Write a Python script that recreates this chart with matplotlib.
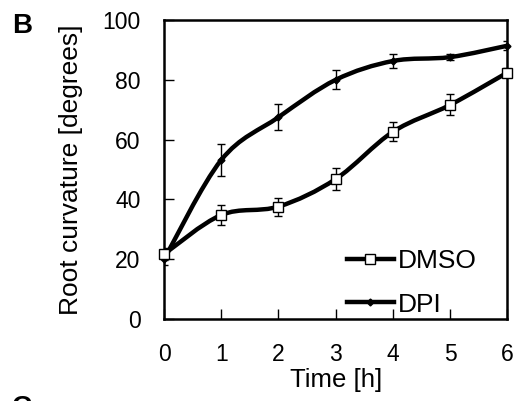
import numpy as np
import matplotlib
matplotlib.use('Agg')
import matplotlib.pyplot as plt
from matplotlib.path import Path
from matplotlib.patches import PathPatch
from matplotlib.lines import Line2D

plt.rcParams['font.family'] = ['Liberation Sans', 'DejaVu Sans']

hours = [0, 1, 2, 3, 4, 5, 6]
dmso = [21.7, 34.8, 37.6, 46.8, 62.6, 71.6, 82.4]
dmso_err = [2.0, 3.3, 3.0, 3.7, 3.2, 3.5, 1.5]
dpi = [20.0, 53.2, 67.5, 80.0, 86.3, 87.6, 91.4]
dpi_err = [2.0, 5.2, 4.3, 3.2, 2.2, 1.0, 1.5]

xticks = [0, 1, 2, 3, 4, 5, 6]
yticks = [0, 20, 40, 60, 80, 100]

lw = 3.2


def smooth_path(x, y):
    # excel-style smoothed line as cubic bezier segments
    x = np.asarray(x, float)
    y = np.asarray(y, float)
    px = np.concatenate([[x[0]], x, [x[-1]]])
    py = np.concatenate([[y[0]], y, [y[-1]]])
    verts = [(x[0], y[0])]
    codes = [Path.MOVETO]
    for i in range(1, len(px) - 2):
        c1 = (px[i] + (px[i + 1] - px[i - 1]) / 6, py[i] + (py[i + 1] - py[i - 1]) / 6)
        c2 = (px[i + 1] - (px[i + 2] - px[i]) / 6, py[i + 1] - (py[i + 2] - py[i]) / 6)
        verts += [c1, c2, (px[i + 1], py[i + 1])]
        codes += [Path.CURVE4] * 3
    return Path(verts, codes)


fig = plt.figure(figsize=(5.16, 4.01), dpi=100)
ax = fig.add_axes([0.318, 0.2045, 0.665, 0.7455])

for vals, errs, mk, ms, mfc in [(dpi, dpi_err, 'D', 3.5, 'black'),
                                 (dmso, dmso_err, 's', 6.5, 'white')]:
    ax.add_patch(PathPatch(smooth_path(hours, vals), fill=False, ec='black', lw=lw,
                           capstyle='round', joinstyle='round', zorder=2))
    ax.errorbar(hours, vals, yerr=errs, fmt='none', ecolor='black', elinewidth=1.0,
                capsize=3.2, capthick=1.0, zorder=3)
    ax.plot(hours, vals, ls='none', marker=mk, ms=ms, mfc=mfc, mec='black', mew=1.0,
            zorder=4, clip_on=False)

ax.set_xlim(0, 6)
ax.set_ylim(0, 100)
ax.set_xticks(xticks)
ax.set_yticks(yticks)
ax.tick_params(direction='in', length=7, width=1.0, labelsize=16.5, pad=17)
for s in ax.spines.values():
    s.set_linewidth(1.8)

ax.set_xlabel('Time [h]', fontsize=18.5, labelpad=2)
ax.set_ylabel('Root curvature [degrees]', fontsize=19, labelpad=14)

handles = [Line2D([], [], color='black', lw=lw, marker='s', ms=6.5, mfc='white', mec='black', mew=1.0),
           Line2D([], [], color='black', lw=lw, marker='D', ms=3.5, mfc='black', mec='black')]
ax.legend(handles, ['DMSO', 'DPI'], loc='lower left', bbox_to_anchor=(0.534, 0.008),
          frameon=False, fontsize=19, handlelength=1.75, handletextpad=0.15,
          labelspacing=0.74, borderpad=0, borderaxespad=0)

fig.text(12 / 516, 1 - 33 / 401, 'B', fontsize=20, fontweight='bold', ha='left', va='baseline')
fig.text(12 / 516, 1 - 415 / 401, 'C', fontsize=20, fontweight='bold', ha='left', va='baseline')

fig.savefig('out.png', dpi=100)
